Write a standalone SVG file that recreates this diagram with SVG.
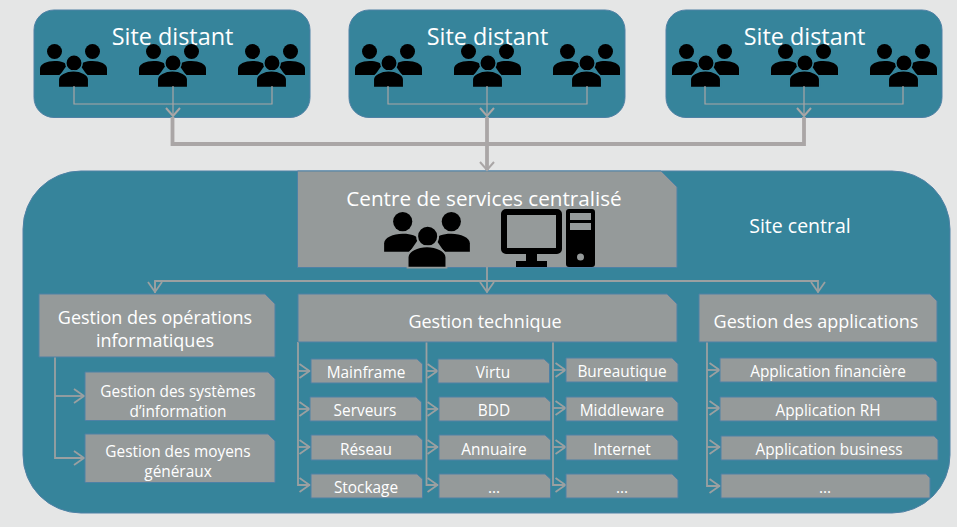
<svg xmlns="http://www.w3.org/2000/svg" width="957" height="527" viewBox="0 0 957 527">
<style>
text{font-family:"Open Sans","Noto Sans","Liberation Sans",sans-serif;fill:#fff;text-anchor:middle}
.site{fill:#36849b;stroke:#4f81a5;stroke-width:1}
.g{fill:#959a9a;stroke:#4f81a5;stroke-width:1}
.t24{font-size:23.4px}.t20{font-size:19.500px}.t21{font-size:20.700px}.t17{font-size:18px}.t14{font-size:15.400px}
.thin{fill:none;stroke:#aaa6a6;stroke-width:1.2}
.thick{fill:none;stroke:#aaa6a6;stroke-width:3.800}
.in{fill:none;stroke:#9ba0a1;stroke-width:1.8}
</style>
<defs>
<symbol id="people" viewBox="0 0 67 43" overflow="visible">
<circle cx="14.5" cy="7.5" r="7.5"/><circle cx="52.5" cy="7.5" r="7.5"/>
<path d="M0 31V24.500C0 20 7 17 14.500 17S25 19 27 21L20 31Z"/>
<path d="M67 31V24.500C67 20 60 17 52.500 17S42 19 40 21L47 31Z"/>
<circle cx="34" cy="19" r="8.200" stroke="currentColor" stroke-width="1.500"/>
<path d="M18.300 43.500V35.500C18.300 30.500 26 26.800 33.500 26.800S48.700 30.500 48.700 35.500V43.500Z" stroke="currentColor" stroke-width="1.500"/>
</symbol>
<marker id="a" markerWidth="16" markerHeight="16" refX="11" refY="8" orient="auto" markerUnits="userSpaceOnUse"><path d="M3 1L11 8L3 15" fill="none" stroke="#aaa6a6" stroke-width="2"/></marker>
<marker id="b" markerWidth="16" markerHeight="16" refX="11.500" refY="8" orient="auto" markerUnits="userSpaceOnUse"><path d="M1 1L11 8L1 15" fill="none" stroke="#9ba0a1" stroke-width="1.800"/></marker>
</defs>
<rect width="957" height="527" fill="#e5e6e6"/>
<g id="site-1"><rect class="site" x="34" y="10" width="276" height="107.500" rx="20"/><text class="t24" x="172.500" y="44.500">Site distant</text>
<g color="#36849b"><use href="#people" x="40" y="44" width="67" height="43"/><use href="#people" x="139" y="44" width="67" height="43"/><use href="#people" x="238" y="44" width="67" height="43"/></g></g>
<g id="site-2"><rect class="site" x="349" y="10" width="276" height="107.500" rx="20"/><text class="t24" x="487.500" y="44.500">Site distant</text>
<g color="#36849b"><use href="#people" x="355" y="44" width="67" height="43"/><use href="#people" x="454" y="44" width="67" height="43"/><use href="#people" x="553" y="44" width="67" height="43"/></g></g>
<g id="site-3"><rect class="site" x="666" y="10" width="276" height="107.500" rx="20"/><text class="t24" x="804.500" y="44.500">Site distant</text>
<g color="#36849b"><use href="#people" x="672" y="44" width="67" height="43"/><use href="#people" x="771" y="44" width="67" height="43"/><use href="#people" x="870" y="44" width="67" height="43"/></g></g>
<g id="site-central"><rect class="site" x="23" y="171" width="927" height="342" rx="58"/><text class="t20" x="800" y="233">Site central</text></g>
<g id="centre"><path class="g" d="M297.500 171H661L677 187V267.500H297.500Z"/><text class="t21" x="484" y="206">Centre de services centralisé</text>
<g color="#959a9a"><use href="#people" x="384" y="212" width="86" height="55"/></g>
<rect x="504" y="212" width="55" height="39" rx="2" fill="none" stroke="#000" stroke-width="6"/>
<path d="M526 254H537V261H547V267H516V261H526Z"/>
<path fill-rule="evenodd" d="M569 209H592Q595 209 595 212V264Q595 267 592 267H569Q566 267 566 264V212Q566 209 569 209ZM570 213V220H591V213ZM570 223V230H591V223Z"/><circle cx="580.500" cy="257" r="3.500" fill="#959a9a"/></g>
<g id="connectors">
<path class="thin" d="M74 86V104H272V86M173 86V116" marker-end="url(#a)"/>
<path class="thin" d="M388 86V104H587V86M487 86V116" marker-end="url(#a)"/>
<path class="thin" d="M705 86V104H903V86M804 86V116" marker-end="url(#a)"/>
<path class="thick" d="M172.500 117V144H804V117"/>
<path class="thick" d="M487 117V170" marker-end="url(#a)"/>
<path class="in" d="M487 267V292.500" marker-end="url(#b)"/>
<path class="in" d="M155 293V281H818V292.500" marker-end="url(#b)"/>
<path class="in" d="M155 281V292.500" marker-end="url(#b)"/>
<path class="in" d="M55 357V458H84.500" marker-end="url(#b)"/><path class="in" d="M55 396H84.500" marker-end="url(#b)"/>
<path class="in" d="M298 342V485H310" marker-end="url(#b)"/><path class="in" d="M298 371H310" marker-end="url(#b)"/><path class="in" d="M298 409H310" marker-end="url(#b)"/><path class="in" d="M298 447H310" marker-end="url(#b)"/>
<path class="in" d="M426.500 342V485H438" marker-end="url(#b)"/><path class="in" d="M426.500 371H438" marker-end="url(#b)"/><path class="in" d="M426.500 409H438" marker-end="url(#b)"/><path class="in" d="M426.500 447H438" marker-end="url(#b)"/>
<path class="in" d="M553 342V485H566" marker-end="url(#b)"/><path class="in" d="M553 370H566" marker-end="url(#b)"/><path class="in" d="M553 408H566" marker-end="url(#b)"/><path class="in" d="M553 447H566" marker-end="url(#b)"/>
<path class="in" d="M707 342V486H720" marker-end="url(#b)"/><path class="in" d="M707 370H720" marker-end="url(#b)"/><path class="in" d="M707 408H720" marker-end="url(#b)"/><path class="in" d="M707 447H720" marker-end="url(#b)"/>
</g>
<g id="gestion-ops"><path class="g" d="M39 294H265L275 304V357H39Z"/><text class="t17" x="155" y="324">Gestion des opérations</text><text class="t17" x="155" y="347">informatiques</text></g>
<g id="gestion-tech"><path class="g" d="M298 294H667L677 304V342H298Z"/><text class="t17" x="485" y="328">Gestion technique</text></g>
<g id="gestion-app"><path class="g" d="M699 294H930L937 301V342H699Z"/><text class="t17" x="816" y="328">Gestion des applications</text></g>
<g id="sys-info"><path class="g" d="M85 372H268L275 379V420.500H85Z"/><text class="t14" x="178" y="397">Gestion des systèmes</text><text class="t14" x="178" y="417">d’information</text></g>
<g id="moyens"><path class="g" d="M85 434H268L275 441V482.500H85Z"/><text class="t14" x="178" y="457">Gestion des moyens</text><text class="t14" x="178" y="477">généraux</text></g>
<g id="mainframe"><path class="g" d="M311 359H417L422.500 364V383H311Z"/><text class="t14" x="366" y="378">Mainframe</text></g>
<g id="serveurs"><path class="g" d="M310 397H416L421.500 402V421H310Z"/><text class="t14" x="365" y="416">Serveurs</text></g>
<g id="reseau"><path class="g" d="M311 435H417L422.500 440V460H311Z"/><text class="t14" x="366" y="455">Réseau</text></g>
<g id="stockage"><path class="g" d="M311 474H417L422.500 479V498H311Z"/><text class="t14" x="366" y="493">Stockage</text></g>
<g id="virtu"><path class="g" d="M438 359H544L549.500 364V383H438Z"/><text class="t14" x="493" y="378">Virtu</text></g>
<g id="bdd"><path class="g" d="M439 397H545L550.500 402V421H439Z"/><text class="t14" x="494" y="416">BDD</text></g>
<g id="annuaire"><path class="g" d="M439 435H545L550.500 440V460H439Z"/><text class="t14" x="494" y="455">Annuaire</text></g>
<g id="tech-etc1"><path class="g" d="M439 474H545L550.500 479V498H439Z"/><text class="t14" x="494" y="493">...</text></g>
<g id="bureautique"><path class="g" d="M566 358H672L678 364V382H566Z"/><text class="t14" x="622" y="377">Bureautique</text></g>
<g id="middleware"><path class="g" d="M566 397H672L678 403V421H566Z"/><text class="t14" x="622" y="416">Middleware</text></g>
<g id="internet"><path class="g" d="M566 435H672L678 441V460H566Z"/><text class="t14" x="622" y="455">Internet</text></g>
<g id="tech-etc2"><path class="g" d="M566 474H672L678 480V498H566Z"/><text class="t14" x="622" y="493">...</text></g>
<g id="app-fin"><path class="g" d="M720 358H933L937 362V382H720Z"/><text class="t14" x="828" y="377">Application financière</text></g>
<g id="app-rh"><path class="g" d="M720 397H933L937 401V421H720Z"/><text class="t14" x="828" y="416">Application RH</text></g>
<g id="app-bus"><path class="g" d="M721 436H934L938 440V460H721Z"/><text class="t14" x="829" y="455">Application business</text></g>
<g id="app-etc"><path class="g" d="M721 474H926L930 478V498H721Z"/><text class="t14" x="825" y="493">...</text></g>
</svg>
